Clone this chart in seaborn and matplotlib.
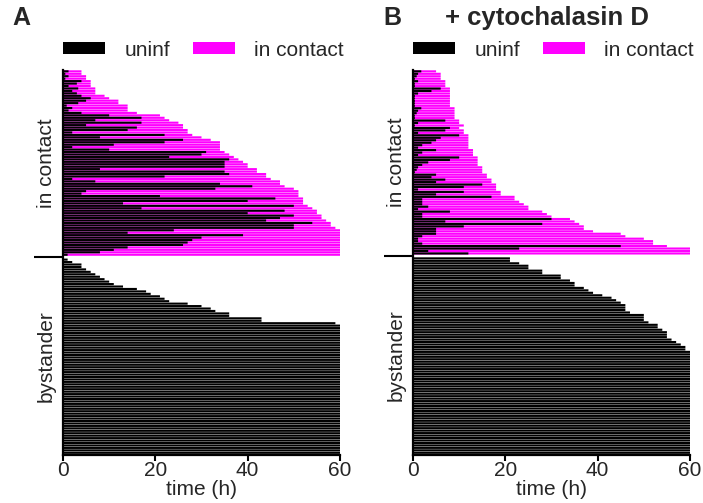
import matplotlib
matplotlib.use("Agg")
import matplotlib.pyplot as plt
import seaborn as sns
import pandas as pd
from matplotlib.patches import Patch

# ---------------- data (hours) ----------------
# Panel A: in-contact cells (top to bottom): total track length and time uninfected before contact
a_contact_total = [4, 4, 5, 5, 6, 6, 6, 7, 7, 7, 9, 10, 12, 12, 14, 14, 14, 16, 21, 22,
                   23, 25, 26, 26, 27, 27,
                   28, 30, 32, 34, 34, 34, 34, 35, 36, 37, 38, 39, 40, 40, 42, 42, 44, 44, 45, 47,
                   47, 48, 50, 51, 51,
                   51, 52, 52, 52, 53, 54, 55, 55, 56, 56, 57, 58, 58, 59, 60, 60, 60, 60, 60, 60,
                   60, 60, 60, 60, 60]
a_contact_uninf = [1.2, 0.5, 1.2, 0.5, 4, 3, 1.2, 3.3, 2, 3, 4, 6, 5, 3.3, 0.8, 2, 1.2, 4, 10, 17,
                   7, 17, 5, 16, 14, 2,
                   22, 8, 26, 22, 11, 2, 10, 31, 30, 23, 36, 35, 35, 35, 8, 35, 36, 22, 2, 7,
                   34, 41, 33, 5, 4,
                   21, 46, 40, 13, 50, 17, 48, 40, 50, 47, 44, 54, 50, 50, 24, 14, 39, 30, 28, 27,
                   26, 14, 11, 8, 1]
a_bystander = [1, 2, 4, 4, 5, 6, 7, 8, 9, 10, 11, 13, 16, 18, 19, 21, 22, 23, 27, 30,
               32, 33, 36, 36, 43, 43, 59,
               60, 60, 60, 60, 60, 60, 60, 60, 60, 60, 60, 60, 60, 60, 60, 60, 60, 60, 60, 60,
               60, 60, 60, 60, 60, 60, 60, 60, 60, 60, 60, 60, 60, 60, 60, 60, 60, 60, 60, 60,
               60, 60, 60, 60, 60, 60, 60, 60, 60, 60, 60, 60, 60]

# Panel B (+ cytochalasin D)
b_contact_total = [5, 6, 6, 6, 7, 7, 7, 8, 8, 8, 8, 8, 8, 8, 8, 9, 9, 9, 9, 9, 10, 10, 11,
                   10, 11, 11, 12, 12, 12, 12, 12, 12, 13, 13, 13, 14, 14, 14, 14, 15, 15, 15,
                   16, 16, 17, 17, 18, 18, 18,
                   19, 19, 22, 22, 23, 24, 25, 25, 28, 29, 30, 34, 35, 36, 37, 37, 39, 45, 46,
                   50, 52, 52, 55, 60, 60, 60]
b_contact_uninf = [1.8, 1.1, 0.8, 0.4, 1.1, 0.4, 0.4, 6, 4, 1.1, 0.4, 0.4, 0.4, 0.4, 0.4, 1.8,
                   1.1, 0.8, 0.4, 0.4, 7, 1.1, 0.4,
                   8, 7, 1.1, 10, 6, 5, 4, 2, 1.1, 5, 2, 1.1, 10, 8, 3.3, 2, 1.1, 0.8, 0.4,
                   5, 4, 7, 5, 15, 11, 1.1,
                   11, 5, 17, 2, 2, 2, 3.3, 1.1, 8, 2, 2, 30, 7, 28, 11, 5, 5, 5, 2,
                   1.1, 1.1, 2, 45, 23, 3.3, 12]
b_bystander = [21, 21, 23, 25, 25, 28, 28, 32, 32, 34, 35, 35, 37, 38, 39, 41, 43, 44, 45, 46,
               46, 46, 47, 50, 50, 50, 51, 53, 53, 54, 55, 55, 55, 56, 57, 58, 59, 59,
               60, 60, 60, 60, 60, 60, 60, 60, 60, 60, 60, 60, 60, 60, 60, 60, 60, 60, 60, 60,
               60, 60, 60, 60, 60, 60, 60, 60, 60, 60, 60, 60, 60, 60, 60, 60, 60, 60, 60, 60,
               60, 60]

x_ticks = [0, 20, 40, 60]
legend_labels = ["uninf", "in contact"]
section_labels = ["in contact", "bystander"]

MAG = "#FF00FF"
BLK = "#000000"
FS = 15

sns.set_style("ticks")
plt.rcParams["font.family"] = ["Liberation Sans", "DejaVu Sans"]


def draw(ax, c_total, c_uninf, byst):
    n1, n2 = len(c_total), len(byst)
    rows_c = [f"c{i}" for i in range(n1)]
    rows_b = [f"b{i}" for i in range(n2)]
    order = rows_c + ["gap"] + rows_b
    df_c = pd.DataFrame({"row": rows_c, "total": c_total, "uninf": c_uninf})
    df_b = pd.DataFrame({"row": rows_b, "uninf": byst})
    df_all = pd.concat([df_c[["row", "uninf"]], df_b], ignore_index=True)

    sns.barplot(data=df_c, x="total", y="row", order=order, color=MAG, saturation=1,
                width=0.86, errorbar=None, orient="h", ax=ax, edgecolor="none", linewidth=0,
                snap=False)
    sns.barplot(data=df_all, x="uninf", y="row", order=order, color=BLK, saturation=1,
                width=0.86, errorbar=None, orient="h", ax=ax, edgecolor="none", linewidth=0,
                snap=False)

    N = n1 + 1 + n2
    ax.set_ylim(N - 1 + 0.9, -0.55)
    ax.set_xlim(0, 60)
    ax.set_xticks(x_ticks)
    ax.set_xticklabels([str(t) for t in x_ticks], fontsize=FS)
    ax.set_xlabel("time (h)", fontsize=FS, labelpad=0)
    ax.set_ylabel("")
    ax.set_yticks([n1])
    ax.set_yticklabels([""])
    ax.set_yticks([(n1 - 1) / 2, n1 + 1 + (n2 - 1) / 2], minor=True)
    ax.set_yticklabels(section_labels, minor=True, rotation=90, va="center", fontsize=FS)
    ax.tick_params(axis="y", which="major", length=21, width=1.5, color="black")
    ax.tick_params(axis="y", which="minor", length=0, pad=5)
    ax.tick_params(axis="x", length=4, width=1.5, pad=0.5, color="black")
    sns.despine(ax=ax)
    for s in ["left", "bottom"]:
        ax.spines[s].set_linewidth(1.6)
        ax.spines[s].set_color("black")


fig = plt.figure(figsize=(7.03, 5.03), dpi=100)
bottom = 1 - 455 / 503
height = (455 - 70) / 503
axA = fig.add_axes([63 / 703, bottom, 277 / 703, height])
axB = fig.add_axes([413 / 703, bottom, 277 / 703, height])

draw(axA, a_contact_total, a_contact_uninf, a_bystander)
draw(axB, b_contact_total, b_contact_uninf, b_bystander)

handles = [Patch(facecolor=BLK, edgecolor="none"), Patch(facecolor=MAG, edgecolor="none")]
for x0 in (63 / 703, 413 / 703):
    fig.legend(handles, legend_labels, loc="center left", bbox_to_anchor=(x0, 1 - 50 / 503),
               bbox_transform=fig.transFigure, ncol=2, frameon=False, fontsize=FS,
               handlelength=2.0, handleheight=0.45, handletextpad=0.95, columnspacing=1.1,
               borderpad=0, borderaxespad=0)

fig.text(12 / 703, 1 - 18 / 503, "A", fontsize=18, fontweight="bold", ha="left", va="center")
fig.text(383 / 703, 1 - 18 / 503, "B", fontsize=18, fontweight="bold", ha="left", va="center")
fig.text(547 / 703, 1 - 18 / 503, "+ cytochalasin D", fontsize=18.5, fontweight="bold",
         ha="center", va="center")

fig.savefig("out.png", dpi=100)
